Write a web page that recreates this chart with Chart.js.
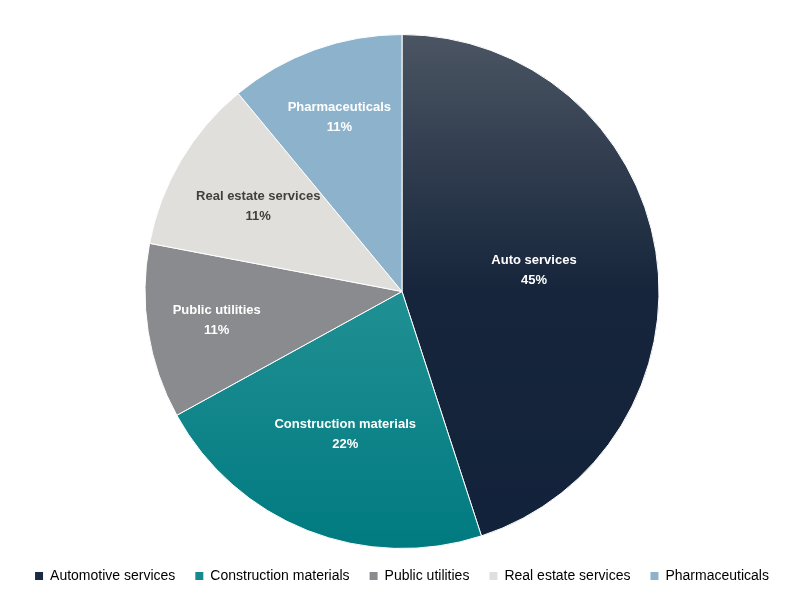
<!DOCTYPE html>
<html>
<head>
<meta charset="utf-8">
<script src="https://cdn.jsdelivr.net/npm/chart.js@4"></script>
<style>
  html, body { margin: 0; padding: 0; background: #fff; }
  #wrap { width: 804px; height: 614px; }
</style>
</head>
<body>
<div id="wrap"><canvas id="pie"></canvas></div>
<script>
const legendLabels = ['Automotive services', 'Construction materials', 'Public utilities', 'Real estate services', 'Pharmaceuticals'];
const sliceLabels = ['Auto services', 'Construction materials', 'Public utilities', 'Real estate services', 'Pharmaceuticals'];
const shares = [45, 22, 11, 11, 11];
const flatColors = ['#1b2b42', '#18898e', '#898b8e', '#e0dfdb', '#8db3cc'];
const labelColors = ['#fff', '#fff', '#fff', '#404040', '#fff'];
// how far out each label sits, as a share of the radius
const labelRadius = [0.52, 0.6, 0.73, 0.65, 0.72];

// vertical gradients for the two large slices
function sliceFill(ctx) {
  const i = ctx.dataIndex;
  const area = ctx.chart.chartArea;
  if (!area || i > 1) return flatColors[i];
  const g = ctx.chart.ctx.createLinearGradient(0, area.top, 0, area.bottom);
  if (i === 0) {
    g.addColorStop(0, '#4b5563');
    g.addColorStop(0.5, '#16253b');
    g.addColorStop(1, '#12223a');
  } else {
    g.addColorStop(0, '#3aa0a4');
    g.addColorStop(0.6, '#1a8c90');
    g.addColorStop(1, '#007a80');
  }
  return g;
}

const sliceText = {
  id: 'sliceText',
  afterDatasetsDraw(chart) {
    const { ctx } = chart;
    const meta = chart.getDatasetMeta(0);
    const total = shares.reduce((s, v) => s + v, 0);
    ctx.save();
    ctx.font = 'bold 13px "Liberation Sans", Arial, sans-serif';
    ctx.textAlign = 'center';
    ctx.textBaseline = 'middle';
    meta.data.forEach((arc, i) => {
      const mid = (arc.startAngle + arc.endAngle) / 2;
      const r = arc.outerRadius * labelRadius[i];
      const x = arc.x + Math.cos(mid) * r;
      const y = arc.y + Math.sin(mid) * r;
      ctx.fillStyle = labelColors[i];
      ctx.fillText(sliceLabels[i], x, y - 10);
      ctx.fillText(Math.round(shares[i] / total * 100) + '%', x, y + 10);
    });
    ctx.restore();
  }
};

new Chart(document.getElementById('pie'), {
  type: 'pie',
  data: {
    labels: legendLabels,
    datasets: [{
      data: shares,
      backgroundColor: sliceFill,
      borderColor: '#fff',
      borderWidth: 1,
    }],
  },
  options: {
    responsive: true,
    maintainAspectRatio: false,
    animation: false,
    layout: { padding: { top: 34, bottom: 21 } },
    plugins: {
      tooltip: { enabled: false },
      legend: {
        position: 'bottom',
        labels: {
          color: '#404040',
          font: { size: 14, family: '"Liberation Sans", Arial, sans-serif' },
          boxWidth: 8,
          boxHeight: 8,
          padding: 20,
          generateLabels: (chart) => legendLabels.map((t, i) => ({
            text: t, fillStyle: flatColors[i], strokeStyle: flatColors[i], lineWidth: 0, index: i,
          })),
        },
      },
    },
  },
  plugins: [sliceText],
});
</script>
</body>
</html>
